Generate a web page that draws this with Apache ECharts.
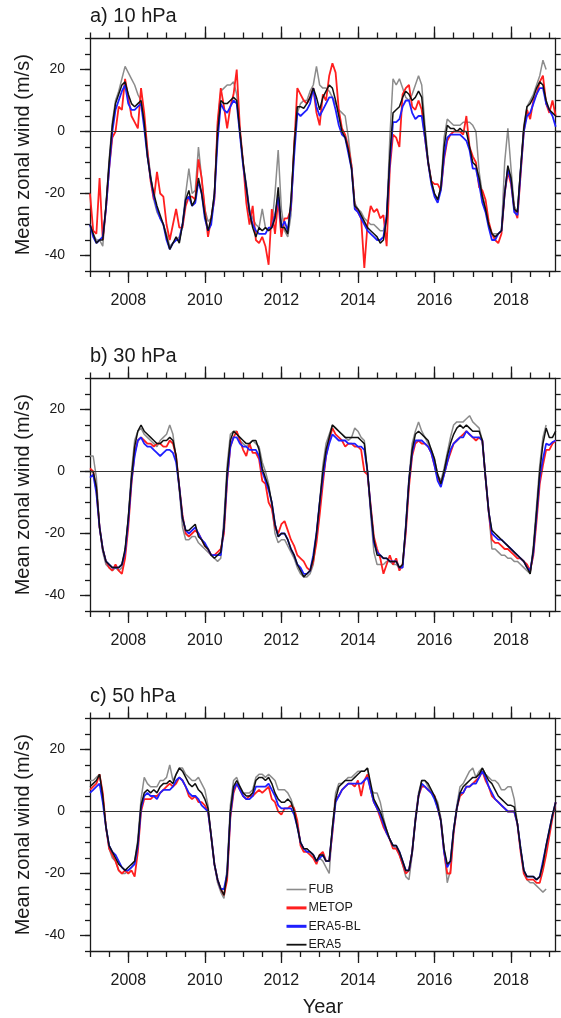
<!DOCTYPE html>
<html>
<head>
<meta charset="utf-8">
<script src="https://cdn.jsdelivr.net/npm/echarts@6.0.0/dist/echarts.min.js"></script>
<style>
html,body{margin:0;padding:0;background:#fff;}
#chart{width:561px;height:1018px;}
</style>
</head>
<body>
<div id="chart"></div>
<script>
// ---------------- DATA ----------------
const START_YEAR = 2007;            // Jan 2007, monthly values
const END_YEAR = 2019 + 2 / 12;     // Mar 2019
const seriesNames = ['FUB', 'METOP', 'ERA5-BL', 'ERA5'];
const panelTitles = ['a) 10 hPa', 'b) 30 hPa', 'c) 50 hPa'];
const xLabelTicks = [2008, 2010, 2012, 2014, 2016, 2018];
const xMinorTicks = [2007,2007.5,2008,2008.5,2009,2009.5,2010,2010.5,2011,2011.5,2012,2012.5,2013,2013.5,2014,2014.5,2015,2015.5,2016,2016.5,2017,2017.5,2018,2018.5,2019];
const yLabelTicks = [-40, -20, 0, 20];
const yMinorTicks = [-45,-40,-35,-30,-25,-20,-15,-10,-5,0,5,10,15,20,25,30];
const yMin = -45, yMax = 30;

// 10 hPa
const fub10 = [-30,-33,-35,-35,-37,-24,-9,3,10,13, 17,21,19,17,15,12,10,3,-6,-14, -22,-26,-28,-30,-33,-37,-36,-35,-34,-30,
 -20,-12,-20,-19,-5,-15,-25,-29,-28,-20, 2,13,14,15,15,16,12,0,-10,-17, -25,-28,-30,-31,-25,-31,-32,-30,-20,-6,
 -25,-32,-34,-27,-3,6,9,10,10,13, 15,21,15,14,14,13,11,9,7,6, 5,-2,-11,-23,-25,-26,-28,-29,-30,-30,
 -31,-32,-32,-28,-2,17,15,17,14,11, 10,12,15,18,15,2,-9,-16,-20,-22, -18,-2,4,3,2,2,2,3,3,3,
 2,0,-13,-20,-25,-30,-33,-33,-33,-32, -10,1,-12,-24,-26,-12,2,8,10,12, 15,18,23,20];
const metop10 = [-20,-32,-33,-15,-35,-25,-12,-2,0,8, 7,17,11,5,3,1,14,6,-6,-16, -22,-13,-20,-21,-30,-35,-30,-25,-31,-31,
 -24,-21,-21,-22,-9,-15,-25,-34,-28,-22, 3,14,8,1,8,12,20,1,-10,-23, -30,-24,-35,-36,-34,-37,-43,-25,-33,-22,
 -34,-28,-28,-25,-5,14,12,10,9,11, 14,6,2,12,10,18,22,19,7,1, -1,-5,-11,-24,-26,-28,-44,-30,-24,-26,
 -25,-28,-27,-37,-12,-1,-2,-5,12,14, 15,8,7,10,7,-2,-10,-16,-17,-17, -19,-9,-3,-1,0,0,0,-1,5,-5,
 -8,-10,-18,-19,-22,-29,-33,-35,-36,-33, -20,-13,-17,-25,-28,-14,0,7,4,10, 12,16,18,9,6,10,5];
const era5bl10 = [-30,-34,-36,-35,-34,-25,-12,0,7,10, 13,15,9,7,7,8,9,1,-8,-15, -21,-25,-28,-30,-35,-38,-36,-35,-35,-30,
 -22,-21,-24,-23,-16,-20,-28,-32,-30,-21, -3,9,7,6,8,10,9,-1,-11,-18, -26,-30,-32,-33,-33,-33,-31,-31,-27,-21,
 -31,-29,-32,-24,-8,6,5,6,7,9, 14,8,5,7,9,11,11,7,2,-1, -2,-7,-12,-25,-26,-28,-30,-32,-33,-34,
 -35,-35,-34,-27,-10,3,3,4,8,10, 10,6,4,5,5,-2,-10,-17,-21,-23, -19,-8,-2,-1,-1,-1,-1,-2,-3,-6,
 -12,-12,-17,-23,-26,-31,-35,-35,-33,-32, -20,-12,-16,-26,-27,-13,0,5,6,9, 12,14,14,9,7,5,1.5];
const era510 = [-30,-33,-36,-35,-35,-24,-10,2,9,12, 15,16,12,9,8,9,10,3,-8,-15, -20,-24,-27,-30,-34,-38,-36,-34,-36,-30,
 -22,-19,-24,-22,-15,-20,-27,-32,-28,-20, 0,10,9,9,10,11,10,0,-10,-18, -26,-31,-34,-31,-32,-31,-32,-31,-28,-18,
 -31,-31,-33,-22,-5,8,8,7.5,9,11, 14,11,7,11,13,15,14,10,5,0, -2,-6,-12,-24,-25,-27,-29,-31,-32,-33,
 -34,-36,-35,-28,-8,6,7,8,11,13, 12,10,11,13,11,0,-10,-16,-20,-22, -18,-5,2,1,1,0,1,0,0,-5,
 -10,-11,-15,-21,-25,-30,-33,-34,-33,-32, -20,-11,-15,-25,-26,-12,1,8,9,11, 14,16,15,10,7,6,5];

// 30 hPa
const fub30 = [5,5,-2,-18,-26,-30,-31,-32,-31,-32, -31,-26,-15,0,10,13,14,12,11,10, 9,8,10,11,12,15,12,4,-6,-18,
 -22,-22,-21,-21,-23,-24,-25,-26,-27,-28, -29,-28,-15,2,12,13,13,10,9,8, 9,10,9,8,3,0,-4,-11,-20,-23,
 -22,-22,-24,-26,-28,-31,-33,-34,-34,-33, -30,-21,-10,2,9,12,15,14,13,12, 11,10,11,14,13,11,10,0,-14,-26,
 -30,-30,-30,-29,-29,-30,-30,-31,-31,-17, -2,9,13,16,13,11,9,7,4,-1, -3,1,6,11,15,16,16,16,17,18,
 16,15,14,10,-2,-13,-25,-25,-26,-27, -27,-28,-28,-29,-29,-30,-31,-32,-33,-24, -11,2,11,15];
const metop30 = [1,0,-6,-18,-25,-29,-31,-32,-30,-32, -33,-28,-18,-4,6,10,11,10,9,9, 8,9,9,8,8,10,9,5,-5,-14,
 -20,-21,-20,-19,-20,-22,-24,-25,-27,-27, -26,-25,-20,-3,8,11,13,10,7,5, 9,6,6,4,-3,-4,-10,-12,-18,-20,
 -17,-16,-19,-22,-24,-27,-28,-29,-31,-32, -29,-23,-14,-4,5,10,14,12,11,10, 8,9,9,8,8,7,0,-1,-11,-21,
 -25,-28,-33,-30,-27,-30,-28,-32,-30,-20, -5,5,9,10,9,9,8,6,2,-2, -4,-1,3,6,9,10,11,12,13,12,
 11,10,11,10,-2,-13,-22,-23,-23,-24, -25,-25,-26,-27,-28,-28,-29,-30,-32,-27, -16,-4,2,7,7,9,10];
const era5bl30 = [-2,-1,-7,-18,-25,-29,-30,-31,-31,-31, -30,-26,-16,-3,5,10,11,9,8,8, 7,6,5,6,7,7,6,3,-5,-15,
 -19,-20,-19,-18,-20,-22,-23,-25,-27,-27, -27,-27,-18,-2,8,11,11,9,8,8, 7,7,7,5,0,-3,-6,-10,-17,-21,
 -20,-20,-22,-25,-27,-30,-31,-33,-33,-32, -27,-20,-10,-2,5,9,12,11,10,10, 10,9,9,9,8,8,7,0,-12,-23,
 -26,-27,-28,-28,-29,-29,-29,-31,-31,-18, -3,6,10,10,10,9,8,6,2,-3, -5,-1,3,7,9,10,11,11,13,12,
 11,11,11,10,-2,-13,-20,-21,-22,-22, -23,-24,-25,-26,-27,-28,-29,-31,-32,-26, -14,-2,4,9,8.5,9.5,10];
const era530 = [0,0,-5,-18,-25,-29,-30,-31,-31,-31, -30,-25,-15,-2,8,13,15,13,12,11, 10,9,9,10,10,11,10,5,-5,-15,
 -19,-19,-18,-17,-21,-22,-24,-25,-27,-28, -27,-26,-18,0,10,13,12,11,10,9, 9,10,10,7,1,-2,-5,-10,-17,-21,
 -20,-20,-22,-25,-27,-30,-32,-34,-33,-32, -28,-20,-10,0,7,11,15,14,13,12, 11,11,11,11,11,10,9,0,-12,-22,
 -27,-27,-28,-28,-29,-29,-29,-31,-30,-18, -3,7,12,13,12,11,10,7,4,-1, -4,0,5,9,12,14,15,14,15,14,
 13,13,13,10,-2,-13,-19,-20,-21,-22, -23,-24,-25,-26,-27,-28,-29,-31,-33,-25, -13,0,9,14,11,11,13];

// 50 hPa
const fub50 = [10,10,11,12,5,-5,-12,-15,-16,-19, -20,-20,-19,-18,-16,-9,4,11,9,8, 8,8,10,10,11,15,10,12,14,14,
 12,11,10,10,11,9,7,2,-8,-17, -23,-26,-28,-18,2,10,11,8,6,6, 6,7,11,12,12,11,12,11,10,7,
 7,7,6,4,1,-4,-10,-12,-12,-13, -14,-16,-15,-16,-18,-20,-5,6,9,9, 10,11,11,12,13,13,13,14,7,6,
 6,3,-2,-6,-9,-11,-12,-14,-17,-21, -22,-14,-2,6,10,10,8,6,5,3, -2,-12,-23,-19,-6,2,8,9,11,13,
 14,11,13,14,12,11,10,10,9,7, 7,8,8,4,-4,-12,-19,-22,-23,-23, -24,-25,-26,-25];
const metop50 = [7,8,9,12,6,-5,-12,-14,-16,-19, -20,-19,-20,-19,-21,-13,0,4,4,4, 5,5,6,7,8,9,8,9,11,10,
 8,5,4,5,3,3,2,0,-8,-17, -22,-25,-27,-22,-2,6,9,7,5,4, 5,5,6,7,6,7,8,4,3,0,
 -1,1,1,2,1,-3,-11,-13,-13,-14, -15,-17,-14,-13,-16,-16,-7,4,5,7, 8,9,9,8,10,5,10,12,7,3,
 1,-2,-5,-7,-9,-12,-12,-14,-17,-20, -19,-13,-3,5,8,8,7,6,5,1, -3,-13,-20,-20,-7,1,5,6,8,8,
 9,10,11,13,10,8,5,4,3,2, 1,0,0,0,-4,-13,-20,-22,-22,-22, -23,-23,-19,-14,-8,-2,3];
const era5bl50 = [6,7,8,9,3,-5,-11,-13,-14,-16, -18,-19,-19,-18,-17,-11,1,5,6,5, 5,4,6,7,7,7,8,10,11,10,
 8,6,5,5,4,2,1,0,-8,-17, -22,-25,-25,-20,-1,7,9,7,5,4, 4,5,8,8,8,8,9,7,5,2,
 1,1,1,1,-1,-5,-10,-12,-13,-13, -14,-16,-15,-14,-16,-16,-6,3,5,7, 8,9,9,9,9,9,10,11,7,3,
 1,-1,-4,-7,-9,-11,-11,-13,-16,-19, -19,-13,-3,5,9,8,7,6,4,1, -3,-13,-18,-16,-6,1,6,6,8,8,
 9,9,11,13,11,8,6,4,3,2, 1,0,0,0,-4,-12,-19,-21,-21,-21, -22,-21,-16,-11,-6,-1,3];
const era550 = [8,9,10,12,5,-5,-11,-13,-15,-17, -18,-19,-18,-17,-16,-10,2,6,7,6, 7,6,8,9,9,10,9,12,14,13,
 11,9,8,9,7,6,4,1,-8,-17, -22,-25,-27,-20,0,8,10,8,6,5, 5,6,10,11,11,10,11,9,6,4,
 3,3,4,3,0,-5,-10,-12,-12,-13, -14,-16,-14,-14,-16,-16,-5,4,8,9, 10,10,10,11,12,13,13,14,9,4,
 2,0,-3,-6,-9,-11,-11,-13,-16,-19, -19,-13,-3,5,10,10,9,7,5,2, -3,-12,-17,-16,-6,1,6,8,9,10,
 11,11,12,14,12,10,9,7,5,4, 3,2,2,1.5,-4,-12,-19,-21,-21,-21, -22,-21,-17,-11,-6,-1,3];

const panelData = [
  {FUB: fub10, METOP: metop10, 'ERA5-BL': era5bl10, ERA5: era510},
  {FUB: fub30, METOP: metop30, 'ERA5-BL': era5bl30, ERA5: era530},
  {FUB: fub50, METOP: metop50, 'ERA5-BL': era5bl50, ERA5: era550}
];

// ---------------- STYLE ----------------
const FONT = "'Liberation Sans', Arial, Helvetica, sans-serif";
const INK = '#1a1a1a';
const seriesStyle = {
  'FUB':     {color: '#8c8c8c', width: 1.5, legendWidth: 1.6},
  'METOP':   {color: '#ff1f1f', width: 1.8, legendWidth: 3},
  'ERA5-BL': {color: '#1f1fff', width: 1.8, legendWidth: 3},
  'ERA5':    {color: '#111111', width: 1.5, legendWidth: 1.8}
};
const GRID_LEFT = 90, GRID_W = 465.7, GRID_H = 232.5;
const GRID_TOPS = [38.5, 378.5, 718.5];
const TITLE_TOPS = [6, 346, 686];

const toPairs = arr => arr.map((v, i) => [START_YEAR + i / 12, v]);

const grids = [], xAxes = [], yAxes = [], series = [], titles = [];
const axisLineStyle = {color: INK, width: 1.3};

for (let p = 0; p < 3; p++) {
  grids.push({left: GRID_LEFT, top: GRID_TOPS[p], width: GRID_W, height: GRID_H, containLabel: false});
  titles.push({text: panelTitles[p], left: GRID_LEFT, top: TITLE_TOPS[p], padding: 0,
    textStyle: {fontSize: 20, fontWeight: 'normal', color: INK, fontFamily: FONT}});

  const baseX = (pos, ticks, len, showLine) => ({
    type: 'value', gridIndex: p, position: pos, min: START_YEAR, max: END_YEAR,
    axisLine: {show: showLine, onZero: false, lineStyle: axisLineStyle},
    axisTick: {show: true, customValues: ticks, length: len, lineStyle: axisLineStyle},
    axisLabel: {show: false}, splitLine: {show: false}
  });
  const xMain = baseX('bottom', xLabelTicks, 12, true);
  xMain.axisLabel = {show: true, customValues: xLabelTicks, formatter: v => String(Math.round(v)),
    fontSize: 16, color: INK, fontFamily: FONT, margin: 22};
  if (p === 2) {
    xMain.name = 'Year';
    xMain.nameLocation = 'middle';
    xMain.nameGap = 46;
    xMain.nameTextStyle = {fontSize: 20, color: INK, fontFamily: FONT};
  }
  xAxes.push(xMain);
  xAxes.push(baseX('bottom', xMinorTicks, 6, false));
  xAxes.push(baseX('top', xLabelTicks, 12, true));
  xAxes.push(baseX('top', xMinorTicks, 6, false));

  const baseY = (pos, ticks, len, showLine) => ({
    type: 'value', gridIndex: p, position: pos, min: yMin, max: yMax,
    axisLine: {show: showLine, onZero: false, lineStyle: axisLineStyle},
    axisTick: {show: true, customValues: ticks, length: len, lineStyle: axisLineStyle},
    axisLabel: {show: false}, splitLine: {show: false}
  });
  const yMain = baseY('left', yLabelTicks, 10, true);
  yMain.axisLabel = {show: true, customValues: yLabelTicks, formatter: v => String(Math.round(v)),
    fontSize: 14, color: INK, fontFamily: FONT, margin: 25};
  yMain.name = 'Mean zonal wind (m/s)';
  yMain.nameLocation = 'middle';
  yMain.nameGap = 55;
  yMain.nameTextStyle = {fontSize: 20, color: INK, fontFamily: FONT};
  yAxes.push(yMain);
  yAxes.push(baseY('left', yMinorTicks, 5, false));
  yAxes.push(baseY('right', yLabelTicks, 10, true));
  yAxes.push(baseY('right', yMinorTicks, 5, false));

  seriesNames.forEach((name, k) => {
    const s = {
      name, type: 'line', xAxisIndex: 4 * p, yAxisIndex: 4 * p,
      data: toPairs(panelData[p][name]),
      symbol: 'none', showSymbol: false, clip: true,
      lineStyle: {color: seriesStyle[name].color, width: seriesStyle[name].width},
      itemStyle: {color: seriesStyle[name].color},
      emphasis: {disabled: true}
    };
    if (k === 0) {
      s.markLine = {silent: true, symbol: 'none', label: {show: false},
        lineStyle: {color: '#333', width: 1, type: 'solid'},
        data: [{yAxis: 0}]};
    }
    series.push(s);
  });
}

const option = {
  animation: false,
  backgroundColor: '#ffffff',
  title: titles,
  grid: grids,
  xAxis: xAxes,
  yAxis: yAxes,
  legend: {
    data: seriesNames.map(n => ({name: n,
      lineStyle: {color: seriesStyle[n].color, width: seriesStyle[n].legendWidth}})),
    orient: 'vertical', left: 285, top: 882.5,
    itemWidth: 20, itemHeight: 14, itemGap: 4.4, padding: 0,
    itemStyle: {color: 'rgba(0,0,0,0)', borderWidth: 0, opacity: 0},
    textStyle: {fontSize: 12.5, color: INK, fontFamily: FONT, lineHeight: 14, padding: [0, 0, 0, -3]},
    selectedMode: false
  },
  series
};

const chart = echarts.init(document.getElementById('chart'), null, {renderer: 'canvas'});
chart.setOption(option);
</script>
</body>
</html>
